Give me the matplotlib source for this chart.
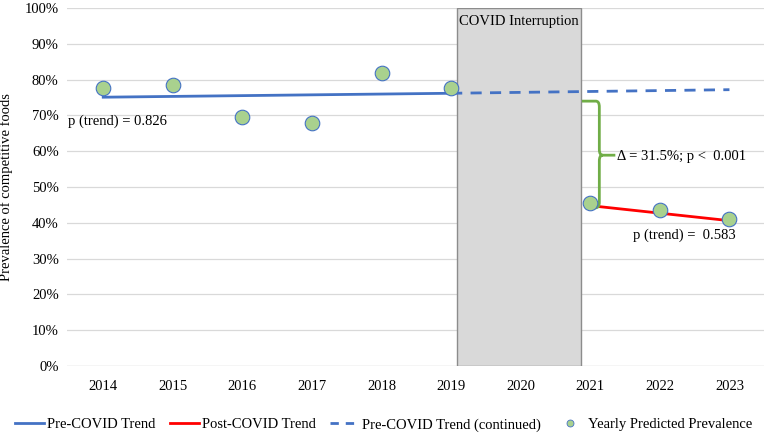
import matplotlib
matplotlib.use("Agg")
import matplotlib.pyplot as plt
from matplotlib.path import Path
from matplotlib.patches import PathPatch, Rectangle
from matplotlib.lines import Line2D

plt.rcParams['font.family'] = ['Liberation Serif', 'DejaVu Serif']

years = [2014, 2015, 2016, 2017, 2018, 2019, 2020, 2021, 2022, 2023]
point_years = [2014, 2015, 2016, 2017, 2018, 2019, 2021, 2022, 2023]
prevalence = [77.6, 78.4, 69.7, 68.0, 82.0, 77.6, 45.4, 43.5, 41.0]
pre_years = [2014, 2019]
pre_trend = [75.1, 76.2]
cont_years = [2019, 2023]
cont_trend = [76.2, 77.2]
post_years = [2021, 2023]
post_trend = [44.8, 40.6]
covid_span = [2019.08, 2020.87]

fig = plt.figure(figsize=(7.67, 4.37), dpi=100)
ax = fig.add_axes([0.0874, 0.1625, 0.909, 0.819])

blue = '#4472C4'
ax.set_xlim(2013.48, 2023.5)
ax.set_ylim(0, 100)
ax.set_yticks(range(0, 101, 10))
ax.set_yticklabels([f'{v}%' for v in range(0, 101, 10)], fontsize=10.5)
ax.set_xticks(years)
ax.set_xticklabels([str(y) for y in years], fontsize=10.5)
ax.tick_params(length=0, pad=10)
ax.tick_params(axis='y', pad=6)
ax.grid(axis='y', color='#D9D9D9', linewidth=0.9)
ax.set_axisbelow(True)
for s in ax.spines.values():
    s.set_visible(False)
ax.axhline(0, color='#D9D9D9', linewidth=0.9, zorder=0)

ax.add_patch(Rectangle((covid_span[0], 0), covid_span[1] - covid_span[0], 100,
                       facecolor='#D9D9D9', edgecolor='#8C8C8C', linewidth=1.0, zorder=1))
ax.text(sum(covid_span) / 2, 96.3, 'COVID Interruption', ha='center', va='center',
        fontsize=10.5, zorder=5)

ax.plot(pre_years, pre_trend, color=blue, linewidth=2, zorder=3, label='Pre-COVID Trend')
ax.plot(post_years, post_trend, color='#FF0000', linewidth=2, zorder=3, label='Post-COVID Trend')
ax.plot(cont_years, cont_trend, color=blue, linewidth=2, linestyle=(0, (4, 3)), zorder=3,
        label='Pre-COVID Trend (continued)')
ax.scatter(point_years, prevalence, s=110, color='#A9D18E', edgecolor=blue, linewidth=0.8,
           zorder=4, label='Yearly Predicted Prevalence')

# curly brace
xl, xv, xt = 2020.88, 2021.13, 2021.36
yt, ym, yb = 74.0, 58.9, 44.2
r = 1.6
verts = [(xl, yt), (xv - 0.05, yt), (xv, yt), (xv, yt - r),
         (xv, ym + r), (xv, ym), (xv + 0.05, ym), (xt, ym),
         (xv + 0.05, ym), (xv, ym), (xv, ym - r),
         (xv, yb + r), (xv, yb), (xv - 0.05, yb), (xl + 0.05, yb)]
codes = [Path.MOVETO, Path.LINETO, Path.CURVE3, Path.CURVE3,
         Path.LINETO, Path.CURVE3, Path.CURVE3, Path.LINETO,
         Path.MOVETO, Path.CURVE3, Path.CURVE3,
         Path.LINETO, Path.CURVE3, Path.CURVE3, Path.LINETO]
ax.add_patch(PathPatch(Path(verts, codes), facecolor='none', edgecolor='#70AD47',
                       linewidth=2, zorder=3, capstyle='butt'))
ax.text(2021.38, 58.6, 'Δ = 31.5%; p <  0.001', ha='left', va='center', fontsize=10.5, zorder=5)
ax.text(2013.5, 68.5, 'p (trend) = 0.826', ha='left', va='center', fontsize=10.5, zorder=5)
ax.text(2022.35, 36.6, 'p (trend) =  0.583', ha='center', va='center', fontsize=10.5, zorder=5)

ax.set_ylabel('Prevalence of competitive foods', fontsize=10.5, labelpad=8)

handles = [Line2D([], [], color=blue, linewidth=2),
           Line2D([], [], color='#FF0000', linewidth=2),
           Line2D([], [], color=blue, linewidth=2, linestyle=(0, (3, 2.5))),
           Line2D([], [], marker='o', linestyle='none', markersize=5,
                  markerfacecolor='#A9D18E', markeredgecolor=blue, markeredgewidth=0.6)]
labels = ['Pre-COVID Trend', 'Post-COVID Trend', 'Pre-COVID Trend (continued)',
          'Yearly Predicted Prevalence']
fig.legend(handles, labels, loc='center', bbox_to_anchor=(0.5, 0.028), ncol=4, frameon=False,
           fontsize=10.5, handlelength=2.0, handletextpad=0.2, columnspacing=1.0)

fig.savefig('out.png', dpi=100)
